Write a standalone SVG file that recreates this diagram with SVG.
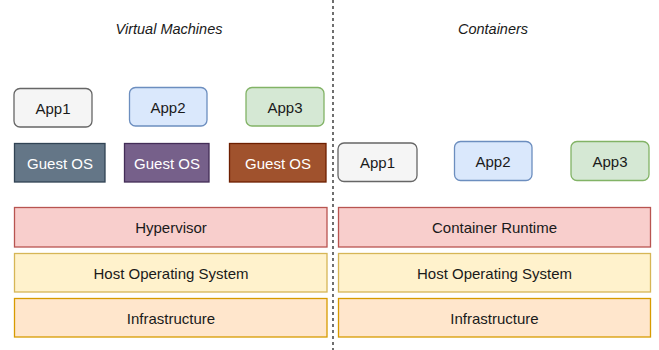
<svg xmlns="http://www.w3.org/2000/svg" width="659" height="350" viewBox="0 0 659 350">
<style>
text{font-family:"Liberation Sans",Arial,sans-serif;font-size:15px;fill:#1a1a1a;text-anchor:middle;dominant-baseline:central}
.t{font-style:italic;font-size:14.5px}
.w{fill:#ffffff}
.r{stroke-width:1.3}
</style>
<rect width="659" height="350" fill="#ffffff"/>
<g id="connectors">
<line x1="333" y1="0" x2="333" y2="350" stroke="#222" stroke-width="1.3" stroke-dasharray="3,3"/>
</g>
<g id="title-vm"><text class="t" x="169" y="29">Virtual Machines</text></g>
<g id="title-containers"><text class="t" x="493" y="29">Containers</text></g>
<g id="vm-app1"><rect class="r" x="14" y="88.5" width="78" height="38.5" rx="6" fill="#f5f5f5" stroke="#666666"/><text x="53" y="108">App1</text></g>
<g id="vm-app2"><rect class="r" x="129.5" y="87.5" width="77.5" height="38.5" rx="6" fill="#dae8fc" stroke="#6c8ebf"/><text x="168" y="107">App2</text></g>
<g id="vm-app3"><rect class="r" x="246" y="87.5" width="78" height="38.5" rx="6" fill="#d5e8d4" stroke="#82b366"/><text x="285" y="107">App3</text></g>
<g id="guest-os1"><rect class="r" x="14.5" y="143.5" width="90.5" height="38.5" fill="#647687" stroke="#314354"/><text class="w" x="60" y="163">Guest OS</text></g>
<g id="guest-os2"><rect class="r" x="124.5" y="143.5" width="84.5" height="38.5" fill="#76608a" stroke="#432d57"/><text class="w" x="167" y="163">Guest OS</text></g>
<g id="guest-os3"><rect class="r" x="229.5" y="143.5" width="96.5" height="38.5" fill="#a0522d" stroke="#6d1f00"/><text class="w" x="278" y="163">Guest OS</text></g>
<g id="c-app1"><rect class="r" x="338" y="143" width="79" height="38.5" rx="6" fill="#f5f5f5" stroke="#666666"/><text x="377.5" y="162.5">App1</text></g>
<g id="c-app2"><rect class="r" x="454.5" y="141.5" width="77.5" height="39" rx="6" fill="#dae8fc" stroke="#6c8ebf"/><text x="493" y="161">App2</text></g>
<g id="c-app3"><rect class="r" x="571" y="141.5" width="78" height="39" rx="6" fill="#d5e8d4" stroke="#82b366"/><text x="610" y="161">App3</text></g>
<g id="hypervisor"><rect class="r" x="14.5" y="207.5" width="312.5" height="39.5" fill="#f8cecc" stroke="#b85450"/><text x="171" y="227.5">Hypervisor</text></g>
<g id="vm-host-os"><rect class="r" x="14.5" y="253.5" width="312.5" height="38.5" fill="#fff2cc" stroke="#d6b656"/><text x="171" y="273">Host Operating System</text></g>
<g id="vm-infra"><rect class="r" x="14.5" y="298.5" width="312.5" height="38.5" fill="#ffe6cc" stroke="#d79b00"/><text x="171" y="318">Infrastructure</text></g>
<g id="container-runtime"><rect class="r" x="338.5" y="207.5" width="312" height="39.5" fill="#f8cecc" stroke="#b85450"/><text x="494.5" y="227.5">Container Runtime</text></g>
<g id="c-host-os"><rect class="r" x="338.5" y="253.5" width="312" height="38.5" fill="#fff2cc" stroke="#d6b656"/><text x="494.5" y="273">Host Operating System</text></g>
<g id="c-infra"><rect class="r" x="338.5" y="298.5" width="312" height="38.5" fill="#ffe6cc" stroke="#d79b00"/><text x="494.5" y="318">Infrastructure</text></g>
</svg>
